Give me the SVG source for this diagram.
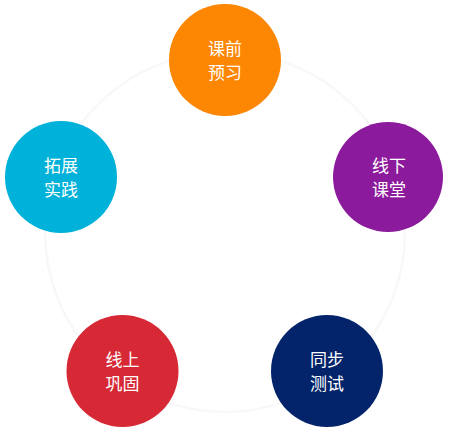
<svg xmlns="http://www.w3.org/2000/svg" width="450" height="432" viewBox="0 0 450 432">
<style>
.ring{fill:none;stroke:#f8f8f8;stroke-width:2.5}
.lbl{font-family:"Noto Sans CJK SC","Noto Sans",sans-serif;font-size:17px;fill:#ffffff;text-anchor:middle}
</style>
<rect width="450" height="432" fill="#ffffff"/>
<g id="connectors">
<circle class="ring" cx="225" cy="232" r="180"/>
</g>
<g id="node-kqyx">
<circle cx="225" cy="60" r="56" fill="#fd8603"/>
<text class="lbl" x="225" y="54.5">课前</text>
<text class="lbl" x="225" y="79.3">预习</text>
</g>
<g id="node-xxkt">
<circle cx="388" cy="177" r="55" fill="#8c1a9c"/>
<text class="lbl" x="389" y="171.5">线下</text>
<text class="lbl" x="389" y="196.3">课堂</text>
</g>
<g id="node-tbcs">
<circle cx="327" cy="371" r="56" fill="#03246a"/>
<text class="lbl" x="327" y="365.5">同步</text>
<text class="lbl" x="327" y="390.3">测试</text>
</g>
<g id="node-xsgg">
<circle cx="122.5" cy="371" r="56" fill="#d62835"/>
<text class="lbl" x="122.5" y="365.5">线上</text>
<text class="lbl" x="122.5" y="390.3">巩固</text>
</g>
<g id="node-tzsj">
<circle cx="61" cy="177" r="56" fill="#00b1d9"/>
<text class="lbl" x="61" y="171.5">拓展</text>
<text class="lbl" x="61" y="196.3">实践</text>
</g>
</svg>
